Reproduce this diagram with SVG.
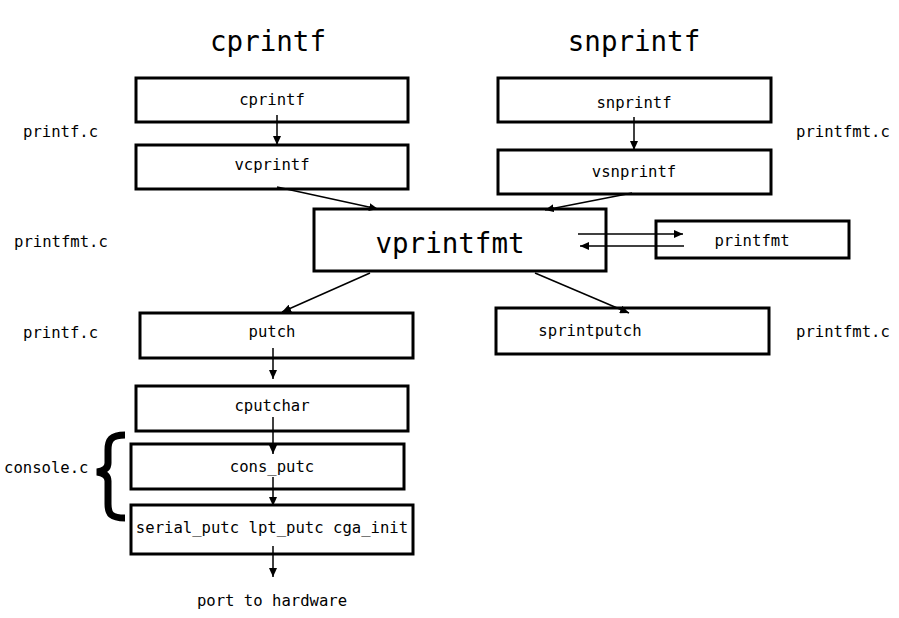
<svg xmlns="http://www.w3.org/2000/svg" width="899" height="618" viewBox="0 0 899 618">
<defs>
<style>
.box{fill:#fff;stroke:#000;stroke-width:3}
.t{font-family:"DejaVu Sans Mono","Liberation Mono",monospace;font-size:15.6px;fill:#000}
.c{text-anchor:middle}
.big{font-family:"DejaVu Sans Mono","Liberation Mono",monospace;font-size:27.5px;fill:#000;text-anchor:middle}
.e{fill:none;stroke:#000;stroke-width:1.5;marker-end:url(#ah)}
</style>
<marker id="ah" markerUnits="userSpaceOnUse" markerWidth="10" markerHeight="8" refX="9" refY="4" orient="auto">
<path d="M0,0 L9,4 L0,8 Z" fill="#000"/>
</marker>
</defs>
<rect width="899" height="618" fill="#fff"/>
<text class="big" x="268" y="51">cprintf</text>
<text class="big" x="634" y="51">snprintf</text>
<g id="labels">
<text class="t" x="23" y="137">printf.c</text>
<text class="t" x="14" y="247">printfmt.c</text>
<text class="t" x="23" y="338">printf.c</text>
<text class="t" x="4" y="473">console.c</text>
<text class="t" x="796" y="137">printfmt.c</text>
<text class="t" x="796" y="337">printfmt.c</text>
<text class="t c" x="272" y="606">port to hardware</text>
<path d="M125,435 C111,435 108,440 108,450 L108,463 C108,468 104,471 97,472 C104,473 108,476 108,481 L108,504 C108,514 111,518 125,518" fill="none" stroke="#000" stroke-width="7"/>
</g>
<g id="n-cprintf"><rect class="box" x="136" y="78" width="272" height="44"/><text class="t c" x="272" y="105">cprintf</text></g>
<g id="n-vcprintf"><rect class="box" x="136" y="145" width="272" height="44"/><text class="t c" x="272" y="170">vcprintf</text></g>
<g id="n-snprintf"><rect class="box" x="498" y="78" width="273" height="44"/><text class="t c" x="634" y="108">snprintf</text></g>
<g id="n-vsnprintf"><rect class="box" x="498" y="150" width="273" height="44"/><text class="t c" x="634" y="177">vsnprintf</text></g>
<g id="n-vprintfmt"><rect class="box" x="314" y="209" width="292" height="62"/><text class="big" x="450" y="253">vprintfmt</text></g>
<g id="n-printfmt"><rect class="box" x="656" y="221" width="193" height="37"/><text class="t c" x="752" y="246">printfmt</text></g>
<g id="n-putch"><rect class="box" x="140" y="313" width="273" height="45"/><text class="t c" x="272" y="337">putch</text></g>
<g id="n-sprintputch"><rect class="box" x="496" y="308" width="273" height="46"/><text class="t c" x="590" y="336">sprintputch</text></g>
<g id="n-cputchar"><rect class="box" x="136" y="386" width="272" height="45"/><text class="t c" x="272" y="411">cputchar</text></g>
<g id="n-cons_putc"><rect class="box" x="131" y="444" width="273" height="45"/><text class="t c" x="272" y="472">cons_putc</text></g>
<g id="n-serial"><rect class="box" x="131" y="505" width="282" height="49"/><text class="t c" x="272" y="533">serial_putc lpt_putc cga_init</text></g>
<g id="connectors">
<line class="e" x1="277" y1="115" x2="277" y2="145"/>
<line class="e" x1="277" y1="187" x2="378" y2="209"/>
<line class="e" x1="634" y1="117" x2="634" y2="150"/>
<line class="e" x1="632" y1="193" x2="545" y2="210"/>
<line class="e" x1="578" y1="234" x2="683" y2="234"/>
<line class="e" x1="684" y1="246" x2="580" y2="246"/>
<line class="e" x1="370" y1="273" x2="282" y2="312"/>
<line class="e" x1="535" y1="273" x2="629" y2="313"/>
<line class="e" x1="273" y1="348" x2="273" y2="379"/>
<line class="e" x1="273" y1="417" x2="273" y2="454"/>
<line class="e" x1="273" y1="477" x2="273" y2="506"/>
<line class="e" x1="273" y1="546" x2="273" y2="577"/>
</g>
</svg>
